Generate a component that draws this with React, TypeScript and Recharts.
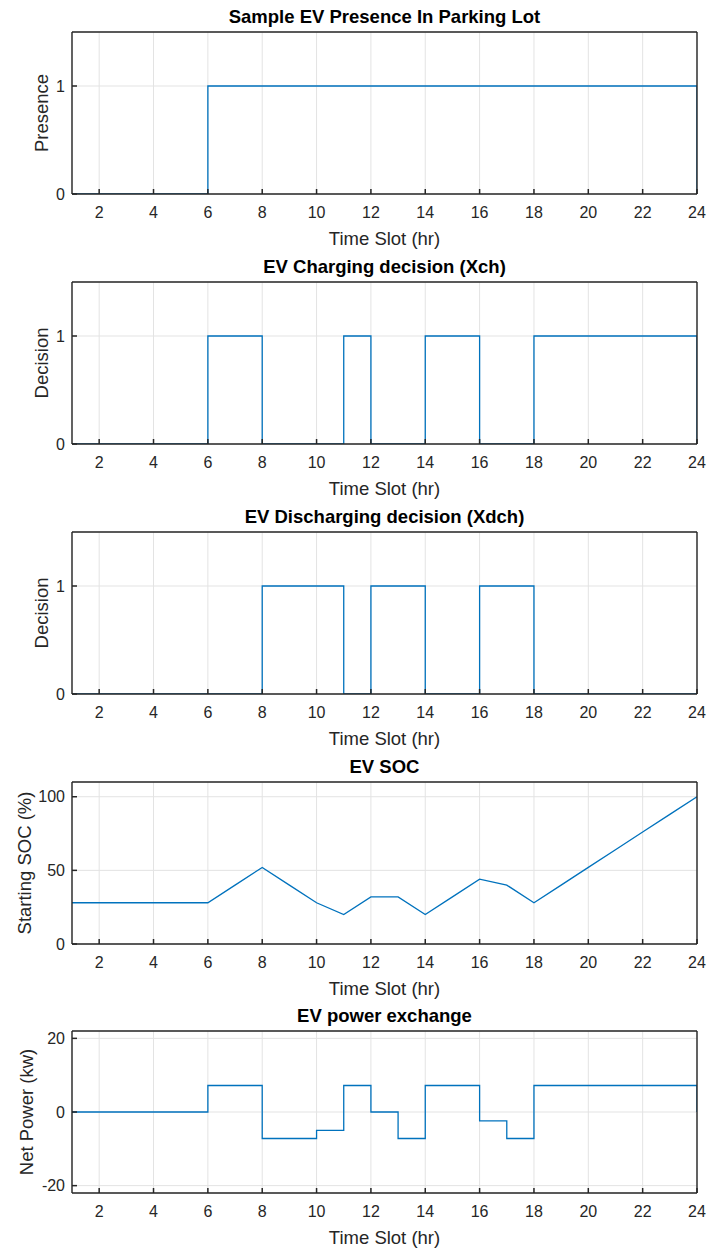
import React from 'react';
import { LineChart, Line, XAxis, YAxis, CartesianGrid } from 'recharts';

const hours = [1, 2, 3, 4, 5, 6, 7, 8, 9, 10, 11, 12, 13, 14, 15, 16, 17, 18, 19, 20, 21, 22, 23, 24];
const presence = [0, 0, 0, 0, 0, 1, 1, 1, 1, 1, 1, 1, 1, 1, 1, 1, 1, 1, 1, 1, 1, 1, 1, 0];
const charging = [0, 0, 0, 0, 0, 1, 1, 0, 0, 0, 1, 0, 0, 1, 1, 0, 0, 1, 1, 1, 1, 1, 1, 0];
const discharging = [0, 0, 0, 0, 0, 0, 0, 1, 1, 1, 0, 1, 1, 0, 0, 1, 1, 0, 0, 0, 0, 0, 0, 0];
const soc = [28, 28, 28, 28, 28, 28, 40, 52, 40, 28, 20, 32, 32, 20, 32, 44, 40, 28, 40, 52, 64, 76, 88, 100];
const power = [0, 0, 0, 0, 0, 7.2, 7.2, -7.2, -7.2, -5, 7.2, 0, -7.2, 7.2, 7.2, -2.4, -7.2, 7.2, 7.2, 7.2, 7.2, 7.2, 7.2, 0];

const xTicks = [2, 4, 6, 8, 10, 12, 14, 16, 18, 20, 22, 24];
const binaryTicks = [0, 1];
const socTicks = [0, 50, 100];
const powerTicks = [-20, 0, 20];

const titles = [
  'Sample EV Presence In Parking Lot',
  'EV Charging decision (Xch)',
  'EV Discharging decision (Xdch)',
  'EV SOC',
  'EV power exchange',
];
const yLabels = ['Presence', 'Decision', 'Decision', 'Starting SOC (%)', 'Net Power (kw)'];
const xLabel = 'Time Slot (hr)';

const rows = hours.map((h, i) => ({
  h,
  presence: presence[i],
  charging: charging[i],
  discharging: discharging[i],
  soc: soc[i],
  power: power[i],
}));

const W = 708;
const H = 250;
const LEFT = 72;
const RIGHT = 11;
const TOP = 32;
const BOTTOM = 56;
const FONT = '"Liberation Sans", Arial, Helvetica, sans-serif';
const AX = '#262626';
const BLUE = '#0072BD';

type PanelProps = {
  top: number;
  dataKey: string;
  stepped: boolean;
  domain: [number, number];
  yTicks: number[];
  title: string;
  yLabel: string;
  yLabelX: number;
};

function Panel({ top, dataKey, stepped, domain, yTicks, title, yLabel, yLabelX }: PanelProps) {
  const plotW = W - LEFT - RIGHT;
  const plotH = H - TOP - BOTTOM;
  const cx = LEFT + plotW / 2;
  const cy = TOP + plotH / 2;
  const tickStyle = { fontSize: 16, fill: AX, fontFamily: FONT };
  return (
    <div style={{ position: 'absolute', left: 0, top, width: W, height: H }}>
      <LineChart width={W} height={H} data={rows} margin={{ top: TOP - 1, right: RIGHT - 1, left: 0, bottom: 0 }}>
        <CartesianGrid stroke="#e3e3e3" strokeWidth={1} />
        <XAxis
          dataKey="h"
          type="number"
          domain={[1, 24]}
          ticks={xTicks}
          interval={0}
          allowDataOverflow
          height={BOTTOM}
          tickSize={-5}
          tickMargin={18}
          tick={tickStyle}
          stroke={AX}
          axisLine={{ stroke: AX, strokeWidth: 1.6 }}
          tickLine={{ stroke: AX, strokeWidth: 1.5 }}
          label={{
            content: () => (
              <text x={cx} y={TOP + plotH + 51} textAnchor="middle" fontSize={18.5} fill={AX} fontFamily={FONT}>
                {xLabel}
              </text>
            ),
          }}
        />
        <XAxis
          xAxisId="top"
          orientation="top"
          type="number"
          domain={[1, 24]}
          ticks={xTicks}
          interval={0}
          allowDataOverflow
          height={1}
          tickSize={-6}
          tick={false}
          axisLine={{ stroke: AX, strokeWidth: 1.6 }}
          tickLine={{ stroke: AX, strokeWidth: 1.5 }}
          label={{
            content: () => (
              <text x={cx} y={TOP - 9} textAnchor="middle" fontSize={18.5} fontWeight="bold" fill="#000" fontFamily={FONT}>
                {title}
              </text>
            ),
          }}
        />
        <YAxis
          type="number"
          domain={domain}
          ticks={yTicks}
          interval={0}
          allowDataOverflow
          width={LEFT}
          tickSize={-5}
          tickMargin={12}
          tick={tickStyle}
          axisLine={{ stroke: AX, strokeWidth: 1.4 }}
          tickLine={{ stroke: AX, strokeWidth: 1.5 }}
          label={{
            content: () => (
              <text
                x={yLabelX}
                y={cy}
                transform={`rotate(-90 ${yLabelX} ${cy})`}
                textAnchor="middle"
                fontSize={18.5}
                fill={AX}
                fontFamily={FONT}
              >
                {yLabel}
              </text>
            ),
          }}
        />
        <YAxis
          yAxisId="right"
          orientation="right"
          type="number"
          domain={domain}
          ticks={yTicks}
          interval={0}
          allowDataOverflow
          width={1}
          tickSize={-6}
          tick={false}
          axisLine={{ stroke: AX, strokeWidth: 1.4 }}
          tickLine={{ stroke: AX, strokeWidth: 1.5 }}
        />
        <Line
          dataKey={dataKey}
          type={stepped ? 'stepAfter' : 'linear'}
          stroke={BLUE}
          strokeWidth={1.3}
          dot={false}
          activeDot={false}
          isAnimationActive={false}
        />
      </LineChart>
    </div>
  );
}

export default function App() {
  return (
    <div style={{ position: 'absolute', left: 0, top: 0, width: W, height: 1249, background: '#fff' }}>
      <Panel top={0} dataKey="presence" stepped domain={[0, 1.5]} yTicks={binaryTicks} title={titles[0]} yLabel={yLabels[0]} yLabelX={48} />
      <Panel top={250} dataKey="charging" stepped domain={[0, 1.5]} yTicks={binaryTicks} title={titles[1]} yLabel={yLabels[1]} yLabelX={48} />
      <Panel top={500} dataKey="discharging" stepped domain={[0, 1.5]} yTicks={binaryTicks} title={titles[2]} yLabel={yLabels[2]} yLabelX={48} />
      <Panel top={750} dataKey="soc" stepped={false} domain={[0, 110]} yTicks={socTicks} title={titles[3]} yLabel={yLabels[3]} yLabelX={31} />
      <Panel top={999} dataKey="power" stepped domain={[-22, 22]} yTicks={powerTicks} title={titles[4]} yLabel={yLabels[4]} yLabelX={33} />
    </div>
  );
}
